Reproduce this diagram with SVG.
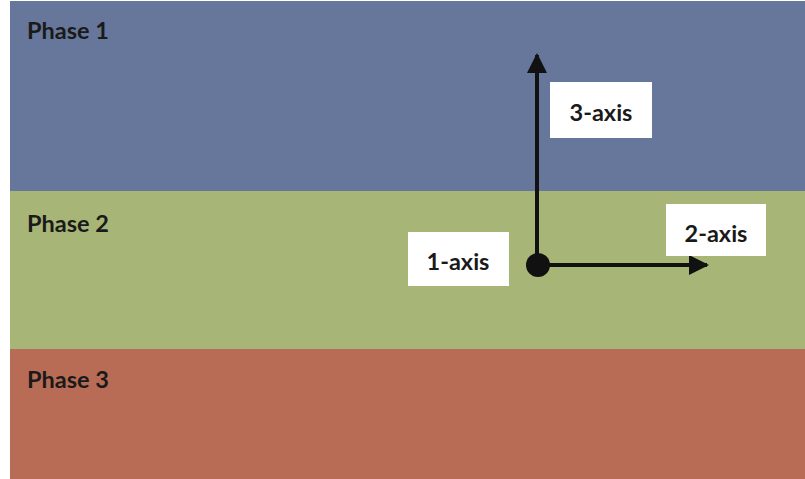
<svg xmlns="http://www.w3.org/2000/svg" width="805" height="479" viewBox="0 0 805 479">
<style>
.lbl{font-family:Lato,"Open Sans","Liberation Sans",sans-serif;font-weight:bold;font-size:23.5px;fill:#1a1a1a}
.box{fill:#ffffff}
.ax{stroke:#111;stroke-width:4;fill:none}
</style>
<defs>
<marker id="ah" markerWidth="5" markerHeight="5" refX="4.5" refY="2.5" orient="auto" markerUnits="strokeWidth">
<path d="M0,0 L5,2.5 L0,5 Z" fill="#111"/>
</marker>
</defs>
<rect width="805" height="479" fill="#ffffff"/>
<g id="phase1"><rect x="10" y="1" width="795" height="190" fill="#67779b"/><text class="lbl" x="27" y="39">Phase 1</text></g>
<g id="phase2"><rect x="10" y="191" width="795" height="158" fill="#a7b576"/><text class="lbl" x="27" y="232">Phase 2</text></g>
<g id="phase3"><rect x="10" y="349" width="795" height="130" fill="#b96c55"/><text class="lbl" x="27" y="388">Phase 3</text></g>
<g id="connectors">
<line class="ax" x1="537" y1="265" x2="537" y2="55" marker-end="url(#ah)"/>
<line class="ax" x1="538" y1="265" x2="707" y2="265" marker-end="url(#ah)"/>
<circle cx="538" cy="265" r="12" fill="#111"/>
</g>
<g id="axis3"><rect class="box" x="550" y="82" width="102" height="56"/><text class="lbl" x="601" y="121" text-anchor="middle">3-axis</text></g>
<g id="axis1"><rect class="box" x="408" y="232" width="101" height="54"/><text class="lbl" x="458" y="270" text-anchor="middle">1-axis</text></g>
<g id="axis2"><rect class="box" x="666" y="204" width="100" height="52"/><text class="lbl" x="716" y="242" text-anchor="middle">2-axis</text></g>
</svg>
